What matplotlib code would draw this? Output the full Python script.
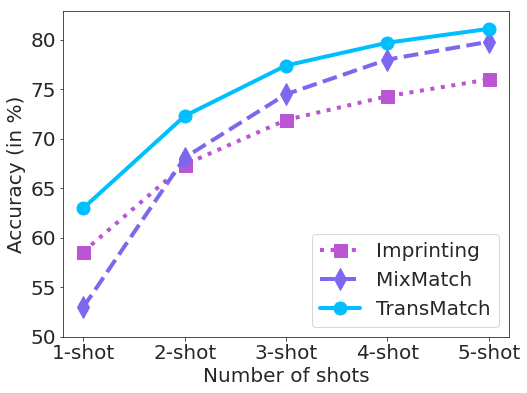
import matplotlib
matplotlib.use("Agg")
import matplotlib.pyplot as plt
import seaborn as sns

shots = [1, 2, 3, 4, 5]
shot_labels = ["1-shot", "2-shot", "3-shot", "4-shot", "5-shot"]

imprinting = [58.6, 67.4, 71.9, 74.3, 76.0]
mixmatch = [53.0, 68.1, 74.5, 78.0, 79.8]
transmatch = [63.0, 72.3, 77.4, 79.7, 81.1]

sns.set_style("ticks")
plt.rcParams["font.family"] = ["DejaVu Sans"]

fig = plt.figure(figsize=(527 / 72, 393 / 72), dpi=72)
ax = fig.add_axes([0.1195, 0.1425, 0.8465, 0.8295])

ax.plot(shots, imprinting, ":", color="mediumorchid", lw=4, marker="s",
        markersize=13, label="Imprinting")
ax.plot(shots, mixmatch, "--", color="mediumslateblue", lw=4, marker="d",
        markersize=15, label="MixMatch")
ax.plot(shots, transmatch, "-", color="deepskyblue", lw=4, marker="o",
        markersize=13, label="TransMatch")

ax.set_xticks(shots)
ax.set_xticklabels(shot_labels)
ax.set_ylim(50, 82.9)
ax.set_yticks([50, 55, 60, 65, 70, 75, 80])
ax.tick_params(labelsize=20)
ax.set_xlabel("Number of shots", fontsize=20)
ax.set_ylabel("Accuracy (in %)", fontsize=20)
ax.legend(loc="lower right", fontsize=20)

fig.savefig("out.png", dpi=72)
